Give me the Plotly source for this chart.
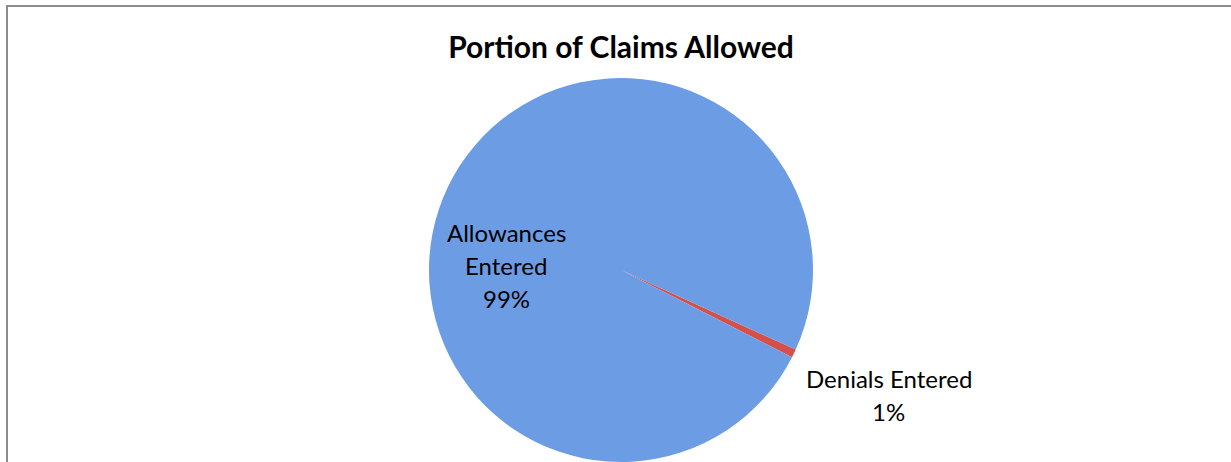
import plotly.graph_objects as go

labels = ["Denials Entered", "Allowances Entered"]
values = [0.7, 99.3]
pct_labels = ["1%", "99%"]
colors = ["#D6504B", "#6C9DE4"]
title_text = "Portion of Claims Allowed"

W, H = 1231, 462
cx, cy, r = 621, 271, 193

fig = go.Figure(go.Pie(
    labels=labels,
    values=values,
    sort=False,
    direction="clockwise",
    rotation=114.5,
    marker=dict(colors=colors, line=dict(width=0)),
    textinfo="none",
    hoverinfo="label+percent",
    showlegend=False,
    domain=dict(x=[(cx - r) / W, (cx + r) / W], y=[max(0, (H - cy - r) / H), (H - cy + r) / H]),
))

font = dict(family="Lato, 'Open Sans', sans-serif", size=24, color="#000000")

def add_lines(lines, xc, ys):
    for t, y in zip(lines, ys):
        fig.add_annotation(x=xc / W, y=1 - y / H, xref="paper", yref="paper",
                           xanchor="center", yanchor="middle",
                           text=t, showarrow=False, font=font)

add_lines(["Allowances", "Entered", pct_labels[1]], 506, [232, 265, 298])
add_lines(["Denials Entered", pct_labels[0]], 889, [378, 411])

fig.update_layout(
    width=W, height=H,
    margin=dict(l=0, r=0, t=0, b=0),
    paper_bgcolor="white",
    plot_bgcolor="white",
    title=dict(text="<b>" + title_text + "</b>", x=621 / W, xanchor="center",
               y=1 - 47 / H, yanchor="middle",
               font=dict(family="Lato, 'Open Sans', sans-serif", size=30, color="#000000")),
    shapes=[
        dict(type="line", xref="paper", yref="paper", x0=7 / W, x1=7 / W, y0=0, y1=1 - 6 / H,
             line=dict(color="#8C8C8C", width=2)),
        dict(type="line", xref="paper", yref="paper", x0=6 / W, x1=1, y0=1 - 6 / H, y1=1 - 6 / H,
             line=dict(color="#8C8C8C", width=2)),
    ],
)

fig.write_html("out.html", config={"displayModeBar": False},
               post_script="document.body.style.margin='0';document.body.style.overflow='hidden';")
